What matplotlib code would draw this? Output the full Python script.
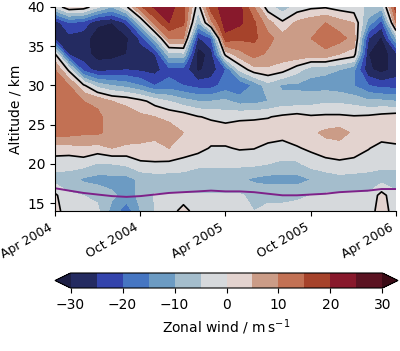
import numpy as np
import pandas as pd
import matplotlib
matplotlib.use("Agg")
import matplotlib.pyplot as plt
import matplotlib.dates as mdates
from matplotlib.colors import ListedColormap

# monthly profiles, Apr 2004 .. Apr 2006
months = pd.date_range("2004-04-01", "2006-04-01", freq="MS")
altitude = np.arange(14, 41, 2)

# zonal wind (m/s): one row per altitude (14, 16, ..., 40 km), one column per month
wind = np.array([
    # 14 km
    [2, -3, -3, -4, -12, -18, -10, -5, -4, 3, -4, -3, -4, -4, -5, -4, -4, -3, -3, -4, -3, -4, -3, 3, -3],
    # 16 km
    [1, -4.5, -5, -6, -9, -12, -9, -4.5, -4.5, -4.5, -4.5, -4.5, -4.5, -4.5, -6, -6, -6, -6, -5, -4.5, -4.5, -4.5, -4.5, 2, -4],
    # 18 km
    [-7, -7, -11, -12, -12, -12, -9, -8, -8, -8, -8, -8, -8, -9, -11, -12, -12, -12, -10, -8, -7, -7, -7, -7, -7],
    # 20 km
    [-3, -3.5, -3, -5.5, -5, -4, -1, -0.5, -1, -2, -4, -4, -4, -4, -4, -5, -6, -6, -3, -2, -1, -2, -3, -4, -4],
    # 22 km
    [3, 3, 4, 3, 5, 4, 4, 3, 5, 3, 2, -0.5, -0.5, 0.5, 0.2, -1.5, -2, -0.5, 1, 3, 3, 3, 0.3, -2, -1.5],
    # 24 km
    [12, 12, 11, 11, 8, 8, 7, 7, 7, 5, 4, 3, 3, 3, 2, 3, 2, 3, 4, 6, 7, 4, 3, 3, 4],
    # 26 km
    [13, 13, 12, 11, 8, 7, 6, 5, 4, 3, 0.3, -0.8, -2, -1, -0.5, -0.3, 1, 2, 0.7, 1, 1, 0.5, 1, 2, 3],
    # 28 km
    [13, 12, 10, 9, 5, 4, 1.5, -2, -5, -8, -10, -10, -9, -12, -12, -10, -8, -8, -7, -6, -6, -7, -9, -9, -10],
    # 30 km
    [12, 10, 1, -7, -10, -12, -15, -20, -18, -20, -22, -22, -18, -20, -14, -7, -11, -11, -12, -12, -13, -15, -20, -22, -22],
    # 32 km
    [10, -1, -22, -27, -26, -25, -26, -27, -22, -22, -31, -28, -20, -4, 3, 4, 2, -3, -8, -9, -10, -14, -29, -32, -28],
    # 34 km
    [0.5, -26, -28, -32, -32, -30, -27, -25, -7, -6, -33, -28, 2, 8, 12, 9, 8, 9, 8, 9, 5, 3, -30, -33, -27],
    # 36 km
    [-26, -27, -28, -33, -34, -31, -24, -8, 10, 10, -26, -20, 18, 16, 16, 12, 7, 8, 10, 12, 12, 8, -25, -31, -10],
    # 38 km
    [-28, -20, -22, -29, -30, -24, -6, 12, 20, 16, -10, 8, 23, 21, 16, 7, 1, 6, 8, 10, 7, 5, -12, -22, 10],
    # 40 km
    [-4, 4, 3, -4, -10, -1, 14, 21, 22, 17, -3, 18, 22, 22, 10, -3, -8, -3, -1, -0.5, -2, -3, -6, -8, 18],
])

# tropopause height (km)
tropopause = [16.9, 16.6, 16.3, 16.1, 15.9, 15.8, 15.9, 16.1, 16.3, 16.4, 16.5, 16.6, 16.5,
              16.5, 16.4, 16.2, 16.0, 16.0, 16.1, 16.2, 16.4, 16.5, 16.6, 16.8, 16.8]

levels = np.arange(-30, 31, 5)
colours = ["#242b61", "#3444ac", "#4676c2", "#6c9bc3", "#a4bdcc", "#d6d9dc",
           "#e3d3cf", "#cb9c87", "#c27154", "#a6432b", "#88192c", "#5b1322"]
cmap = ListedColormap(colours).with_extremes(under="#1d1f45", over="#3b0b16")

fig = plt.figure(figsize=(4.0, 3.51), dpi=100)
ax = fig.add_axes([55 / 400, 1 - 211 / 351, 341 / 400, 204 / 351])

t = mdates.date2num(months)
cf = ax.contourf(t, altitude, wind, levels=levels, cmap=cmap, extend="both")
ax.contour(t, altitude, wind, levels=[0], colors="k", linewidths=1.2)
ax.plot(t, tropopause, color="#7e2189", linewidth=1.4)

ax.set_ylim(14, 40)
ax.set_xlim(t[0], t[-1])
ax.set_yticks([15, 20, 25, 30, 35, 40])
ax.set_ylabel("Altitude / km", fontsize=10)
ax.xaxis.set_major_locator(mdates.MonthLocator(bymonth=[4, 10]))
ax.xaxis.set_major_formatter(mdates.DateFormatter("%b %Y"))
ax.tick_params(axis="y", labelsize=10)
ax.tick_params(axis="x", labelsize=9)
plt.setp(ax.get_xticklabels(), rotation=30, ha="right")
ax.spines["top"].set_visible(False)
ax.spines["right"].set_visible(False)

cax = fig.add_axes([55 / 400, 1 - 288 / 351, 343 / 400, 15 / 351])
cb = fig.colorbar(cf, cax=cax, orientation="horizontal", ticks=range(-30, 31, 10))
cb.set_label(r"Zonal wind / m$\,$s$^{-1}$", fontsize=10)
cb.ax.tick_params(labelsize=10)

fig.savefig("out.png", dpi=100)
